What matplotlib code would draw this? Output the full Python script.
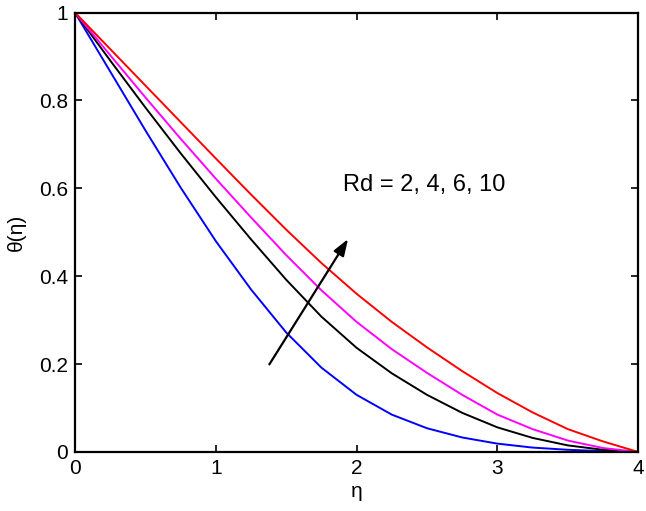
import numpy as np
import matplotlib.pyplot as plt

plt.rcParams["font.family"] = ["Liberation Sans", "DejaVu Sans"]

eta = [0.0, 0.25, 0.5, 0.75, 1.0, 1.25, 1.5, 1.75, 2.0,
       2.25, 2.5, 2.75, 3.0, 3.25, 3.5, 3.75, 4.0]

# theta(eta), Rd = 2, 4, 6, 10
theta_rd2 = [1.0, 0.866, 0.732, 0.602, 0.480, 0.370, 0.272, 0.192, 0.130,
             0.085, 0.054, 0.033, 0.019, 0.010, 0.005, 0.002, 0.0]
theta_rd4 = [1.0, 0.891, 0.784, 0.680, 0.580, 0.484, 0.392, 0.308, 0.237,
             0.179, 0.130, 0.089, 0.056, 0.032, 0.015, 0.005, 0.0]
theta_rd6 = [1.0, 0.903, 0.807, 0.713, 0.622, 0.534, 0.448, 0.368, 0.296,
             0.234, 0.180, 0.130, 0.085, 0.052, 0.026, 0.009, 0.0]
theta_rd10 = [1.0, 0.917, 0.834, 0.751, 0.668, 0.586, 0.506, 0.430, 0.360,
              0.296, 0.238, 0.184, 0.134, 0.090, 0.052, 0.024, 0.0]

series = [
    (theta_rd2, "#0000ff"),
    (theta_rd4, "#000000"),
    (theta_rd6, "#ff00ff"),
    (theta_rd10, "#ff0000"),
]

fig = plt.figure(figsize=(6.46, 5.11), dpi=100)
ax = fig.add_axes([0.116, 0.1155, 0.872, 0.86])

for vals, color in series:
    ax.plot(eta, vals, color=color, linewidth=1.4)

ax.annotate("", xy=(1.95, 0.49), xytext=(1.37, 0.194),
            arrowprops=dict(arrowstyle="-|>,head_length=1.0,head_width=0.35",
                            color="black", lw=1.6))
ax.text(1.90, 0.607, "Rd = 2, 4, 6, 10", fontsize=17, va="center", ha="left")

ax.set_xlim(0, 4)
ax.set_ylim(0, 1)
ax.set_xticks([0, 1, 2, 3, 4])
ax.set_yticks([0, 0.2, 0.4, 0.6, 0.8, 1])
ax.set_yticklabels(["0", "0.2", "0.4", "0.6", "0.8", "1"])
ax.tick_params(direction="in", length=5, width=1.2, labelsize=15,
               top=True, right=True, pad=5)
for s in ax.spines.values():
    s.set_linewidth(1.6)

ax.set_xlabel("η", fontsize=15, labelpad=3)
ax.set_ylabel("θ(η)", fontsize=15, labelpad=9)

fig.savefig("out.png", dpi=100)
